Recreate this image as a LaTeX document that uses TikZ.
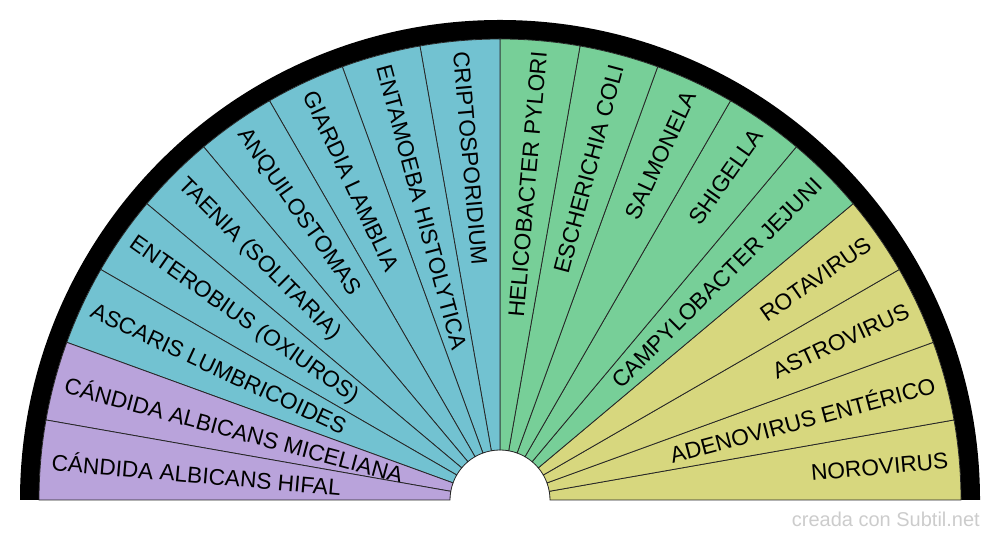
\documentclass[tikz,border=0pt]{standalone}
\usepackage{fontspec}
\setmainfont{Liberation Sans}
\definecolor{cpurple}{HTML}{B9A3DB}
\definecolor{cblue}{HTML}{72C2D1}
\definecolor{cgreen}{HTML}{77CF98}
\definecolor{cyellow}{HTML}{D7D77E}
\definecolor{cwm}{HTML}{CCCCCC}
\begin{document}
\begin{tikzpicture}[x=1pt,y=1pt,
  sector/.style={draw=black!85, line width=0.8pt},
  lbl/.style={font=\fontsize{22.7}{26}\selectfont, inner sep=0pt, text=black},
  wm/.style={font=\fontsize{20}{22}\selectfont, text=cwm, inner sep=0pt}]
\useasboundingbox (0,0) rectangle (1000,540);
\coordinate (c) at (500,40);
\fill[black] (20,40) arc[start angle=180,end angle=0,radius=480] -- (961,40) arc[start angle=0,end angle=180,radius=461] -- cycle;
\foreach \i/\col/\txt in {
  0/cyellow/{NOROVIRUS},
  1/cyellow/{ADENOVIRUS ENTÉRICO},
  2/cyellow/{ASTROVIRUS},
  3/cyellow/{ROTAVIRUS},
  4/cgreen/{CAMPYLOBACTER JEJUNI},
  5/cgreen/{SHIGELLA},
  6/cgreen/{SALMONELA},
  7/cgreen/{ESCHERICHIA COLI},
  8/cgreen/{HELICOBACTER PYLORI},
  9/cblue/{CRIPTOSPORIDIUM},
  10/cblue/{ENTAMOEBA HISTOLYTICA},
  11/cblue/{GIARDIA LAMBLIA},
  12/cblue/{ANQUILOSTOMAS},
  13/cblue/{TAENIA (SOLITARIA)},
  14/cblue/{ENTEROBIUS (OXIUROS)},
  15/cblue/{ASCARIS LUMBRICOIDES},
  16/cpurple/{CÁNDIDA ALBICANS MICELIANA},
  17/cpurple/{CÁNDIDA ALBICANS HIFAL}} {
  \pgfmathsetmacro\aa{10*\i}
  \pgfmathsetmacro\ab{10*\i+10}
  \pgfmathsetmacro\am{10*\i+5}
  \pgfmathsetmacro\ar{10*\i+5-180}
  \filldraw[sector, fill=\col] ([shift={(\aa:50)}]c) arc[start angle=\aa, end angle=\ab, radius=50] -- ([shift={(\ab:461)}]c) arc[start angle=\ab, end angle=\aa, radius=461] -- cycle;
  \ifnum\i<9
    \node[lbl, anchor=east, rotate=\am] (l\i) at ([shift={(\am:450)}]c) {\txt};
  \else
    \node[lbl, anchor=west, rotate=\ar] (l\i) at ([shift={(\am:450)}]c) {\txt};
  \fi
}
\node[wm, anchor=base east] (wm) at (980,13) {creada con Subtil.net};
\end{tikzpicture}
\end{document}
